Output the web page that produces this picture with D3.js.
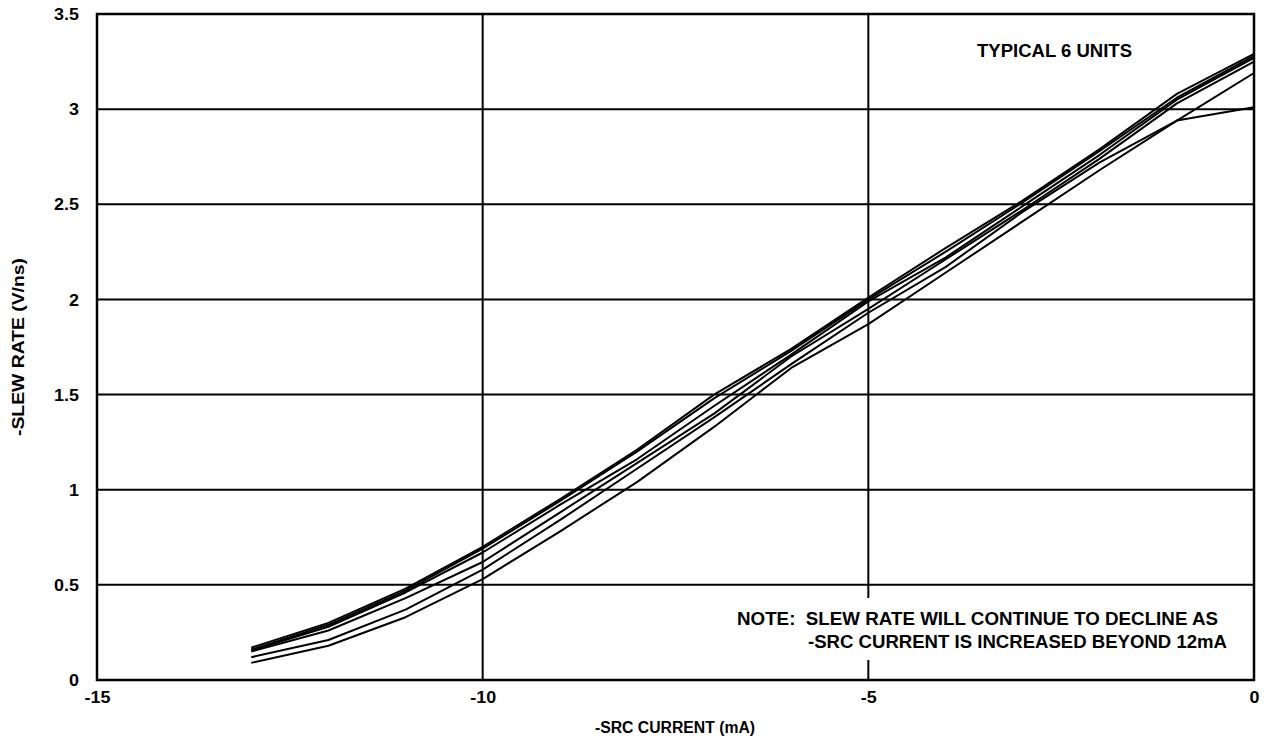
<!DOCTYPE html>
<html>
<head>
<meta charset="utf-8">
<script src="https://cdn.jsdelivr.net/npm/d3@7"></script>
<style>
  html, body { margin: 0; padding: 0; background: #fff; }
  svg { display: block; }
  text { font-family: "Liberation Sans", Arial, Helvetica, sans-serif; font-weight: bold; fill: #000; }
</style>
</head>
<body>
<svg id="chart" width="1268" height="741"></svg>
<script>
// ---- data ----
const currents = [-13, -12, -11, -10, -9, -8, -7, -6, -5, -4, -3, -2, -1, 0];
const unit1 = [0.17, 0.30, 0.48, 0.70, 0.95, 1.21, 1.50, 1.74, 2.01, 2.27, 2.52, 2.79, 3.08, 3.29];
const unit2 = [0.16, 0.29, 0.47, 0.69, 0.94, 1.20, 1.48, 1.73, 2.00, 2.25, 2.51, 2.78, 3.06, 3.28];
const unit3 = [0.155, 0.28, 0.46, 0.67, 0.92, 1.16, 1.44, 1.71, 1.99, 2.22, 2.49, 2.76, 3.05, 3.27];
const unit4 = [0.15, 0.26, 0.43, 0.62, 0.88, 1.14, 1.40, 1.70, 1.95, 2.21, 2.47, 2.74, 3.03, 3.25];
const unit5 = [0.12, 0.21, 0.37, 0.58, 0.84, 1.11, 1.38, 1.66, 1.93, 2.17, 2.46, 2.72, 2.94, 3.01];
const unit6 = [0.09, 0.18, 0.33, 0.53, 0.78, 1.04, 1.33, 1.64, 1.87, 2.14, 2.41, 2.68, 2.94, 3.19];
const units = [unit1, unit2, unit3, unit4, unit5, unit6];
const xTicks = [-15, -10, -5, 0];
const yTicks = [0, 0.5, 1, 1.5, 2, 2.5, 3, 3.5];

// ---- layout ----
const svg = d3.select("#chart");
const L = 97, R = 1254, T = 14, B = 680;
const x = d3.scaleLinear().domain([-15, 0]).range([L, R]);
const y = d3.scaleLinear().domain([0, 3.5]).range([B, T]);

function stretch(sel, factor) {
  sel.each(function () {
    const len = this.getComputedTextLength();
    d3.select(this).attr("textLength", len * factor).attr("lengthAdjust", "spacingAndGlyphs");
  });
}
function fit(sel, width) {
  sel.attr("textLength", width).attr("lengthAdjust", "spacingAndGlyphs");
}

// grid
const g = svg.append("g");
g.selectAll("line.h").data(yTicks).join("line")
  .attr("x1", L).attr("x2", R)
  .attr("y1", d => y(d)).attr("y2", d => y(d))
  .attr("stroke", "#000").attr("stroke-width", 2);
g.selectAll("line.v").data(xTicks).join("line")
  .attr("y1", T).attr("y2", B)
  .attr("x1", d => x(d)).attr("x2", d => x(d))
  .attr("stroke", "#000").attr("stroke-width", 2);

// data lines
const line = d3.line().x((d, i) => x(currents[i])).y(d => y(d));
svg.append("g").selectAll("path").data(units).join("path")
  .attr("d", line)
  .attr("fill", "none").attr("stroke", "#000").attr("stroke-width", 2)
  .attr("stroke-linejoin", "round");

// white box behind the note
svg.append("rect").attr("x", 725).attr("y", 598).attr("width", 520).attr("height", 62).attr("fill", "#fff");

// frame
svg.append("rect").attr("x", L).attr("y", T).attr("width", R - L).attr("height", B - T)
  .attr("fill", "none").attr("stroke", "#000").attr("stroke-width", 2.5);

// axes labels
const yAxis = d3.axisLeft(y).tickValues(yTicks).tickFormat(d => String(d)).tickSize(0).tickPadding(18);
const ya = svg.append("g").attr("transform", `translate(${L},0)`).call(yAxis);
ya.select(".domain").remove();
ya.selectAll("text").style("font-size", "16px").style("font-family", null).attr("dy", "0.35em");
stretch(ya.selectAll("text"), 1.12);

const xAxis = d3.axisBottom(x).tickValues(xTicks).tickFormat(d => String(d)).tickSize(0).tickPadding(12);
const xa = svg.append("g").attr("transform", `translate(0,${B})`).call(xAxis);
xa.select(".domain").remove();
xa.selectAll("text").style("font-size", "16px").style("font-family", null);
stretch(xa.selectAll("text"), 1.12);

// titles
fit(svg.append("text").attr("x", 675).attr("y", 733).attr("text-anchor", "middle")
  .style("font-size", "16px").text("-SRC CURRENT (mA)"), 160);
fit(svg.append("text").attr("transform", "translate(24,347) rotate(-90)").attr("text-anchor", "middle")
  .style("font-size", "16px").text("-SLEW RATE (V/ns)"), 178);

// annotations
fit(svg.append("text").attr("x", 977).attr("y", 57).style("font-size", "18px").text("TYPICAL 6 UNITS"), 155);
fit(svg.append("text").attr("x", 737).attr("y", 625).style("font-size", "19px")
  .attr("xml:space", "preserve").style("white-space", "pre").text("NOTE:  SLEW RATE WILL CONTINUE TO DECLINE AS"), 481);
fit(svg.append("text").attr("x", 808).attr("y", 648).style("font-size", "19px")
  .text("-SRC CURRENT IS INCREASED BEYOND 12mA"), 419);
</script>
</body>
</html>
